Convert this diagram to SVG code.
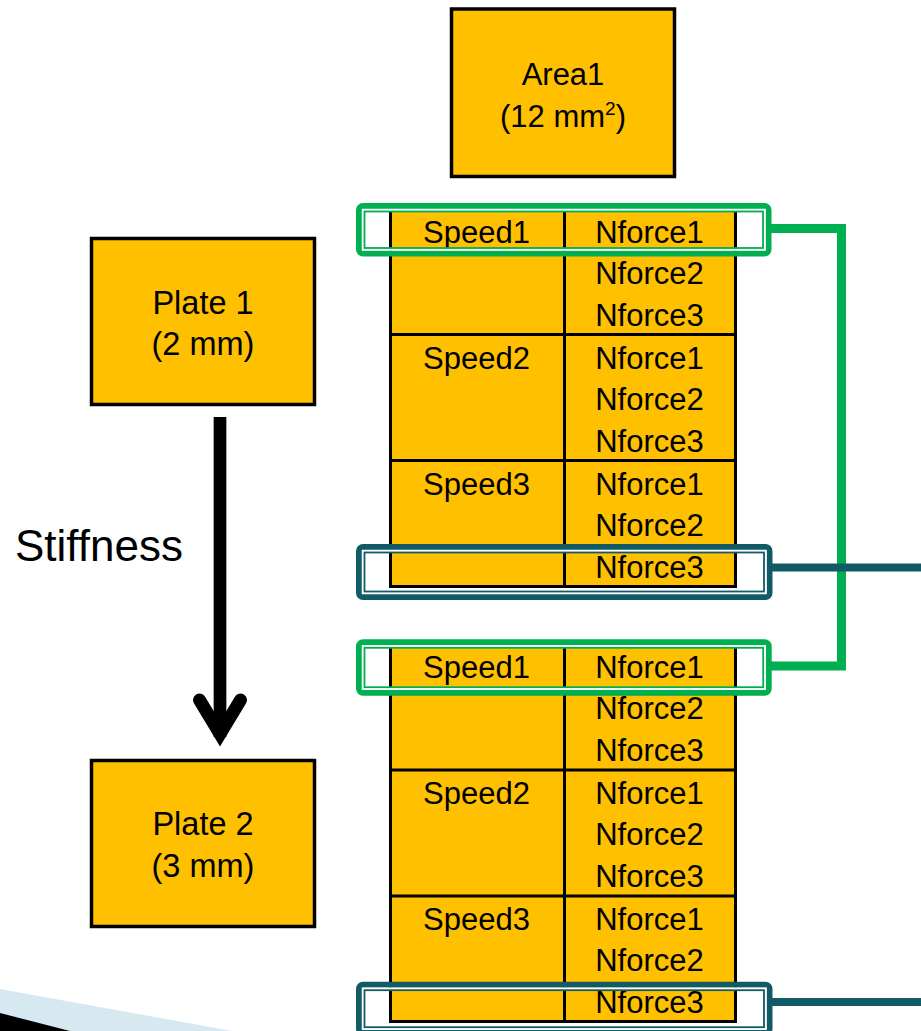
<svg xmlns="http://www.w3.org/2000/svg" width="921" height="1031" viewBox="0 0 921 1031">
<defs>
<style>
.box{fill:#ffc000;stroke:#000;stroke-width:3.5}
.cell{fill:#ffc000;stroke:#000;stroke-width:3}
.ln{stroke:#000;stroke-width:3}
.t{font-family:"Liberation Sans",Arial,sans-serif;font-size:31px;fill:#000;text-anchor:middle}
.tp{font-size:32.5px}
.g{stroke:#00b050}
.b{stroke:#125a65}
.hl-o{fill:none;stroke-width:6}
.hl-w{fill:none;stroke:#fff;stroke-width:2.5}
.hl-i{fill:none;stroke-width:1.8}
.con{fill:none}
</style>
</defs>
<rect width="921" height="1031" fill="#fff"/>
<g id="decoration">
<polygon points="0,989 232,1031 0,1031" fill="#d6e8f0"/>
<polygon points="0,1013 70,1031 0,1031" fill="#000"/>
</g>
<g id="area1">
<rect class="box" x="451.5" y="9" width="223" height="167.5"/>
<text class="t" x="563" y="85">Area1</text>
<text class="t" x="563" y="126.5" font-size="32">(12 mm<tspan font-size="19" dy="-12">2</tspan><tspan dy="12">)</tspan></text>
</g>
<g id="plate1">
<rect class="box" x="91.5" y="238.5" width="223" height="166"/>
<text class="t tp" x="203" y="314">Plate 1</text>
<text class="t tp" x="203" y="355">(2 mm)</text>
</g>
<g id="plate2">
<rect class="box" x="91.5" y="760.5" width="223" height="166"/>
<text class="t tp" x="203" y="835">Plate 2</text>
<text class="t tp" x="203" y="876.5">(3 mm)</text>
</g>
<g id="stiffness">
<line x1="220" y1="417" x2="220" y2="737" stroke="#000" stroke-width="12.7"/>
<polyline points="199.5,700 220,734 240.5,700" fill="none" stroke="#000" stroke-width="13" stroke-linecap="round" stroke-linejoin="miter"/>
<text x="15" y="561" font-family="'Liberation Sans',Arial,sans-serif" font-size="44" fill="#000">Stiffness</text>
</g>
<g id="table1">
<rect class="cell" x="390.5" y="209" width="345" height="377.5"/>
<line class="ln" x1="564.5" y1="209" x2="564.5" y2="586.5"/>
<line class="ln" x1="390.5" y1="334.5" x2="735.5" y2="334.5"/>
<line class="ln" x1="390.5" y1="460.5" x2="735.5" y2="460.5"/>
<text class="t" x="476.5" y="242.5">Speed1</text>
<text class="t" x="649.5" y="242.5">Nforce1</text>
<text class="t" x="649.5" y="284">Nforce2</text>
<text class="t" x="649.5" y="325.5">Nforce3</text>
<text class="t" x="476.5" y="368.5">Speed2</text>
<text class="t" x="649.5" y="368.5">Nforce1</text>
<text class="t" x="649.5" y="410">Nforce2</text>
<text class="t" x="649.5" y="451.5">Nforce3</text>
<text class="t" x="476.5" y="494.5">Speed3</text>
<text class="t" x="649.5" y="494.5">Nforce1</text>
<text class="t" x="649.5" y="536">Nforce2</text>
<text class="t" x="649.5" y="577.5">Nforce3</text>
</g>
<g id="table2">
<rect class="cell" x="390.5" y="644" width="345" height="377.5"/>
<line class="ln" x1="564.5" y1="644" x2="564.5" y2="1021.5"/>
<line class="ln" x1="390.5" y1="770" x2="735.5" y2="770"/>
<line class="ln" x1="390.5" y1="896" x2="735.5" y2="896"/>
<text class="t" x="476.5" y="677.5">Speed1</text>
<text class="t" x="649.5" y="677.5">Nforce1</text>
<text class="t" x="649.5" y="719">Nforce2</text>
<text class="t" x="649.5" y="760.5">Nforce3</text>
<text class="t" x="476.5" y="803.5">Speed2</text>
<text class="t" x="649.5" y="803.5">Nforce1</text>
<text class="t" x="649.5" y="845">Nforce2</text>
<text class="t" x="649.5" y="886.5">Nforce3</text>
<text class="t" x="476.5" y="929.5">Speed3</text>
<text class="t" x="649.5" y="929.5">Nforce1</text>
<text class="t" x="649.5" y="971">Nforce2</text>
<text class="t" x="649.5" y="1012.5">Nforce3</text>
</g>
<g id="connectors">
<path class="con g" d="M771,228.5 H841.5 V666 H771" stroke-width="9" stroke-linejoin="miter"/>
<line class="con b" x1="772" y1="567.5" x2="921" y2="567.5" stroke-width="8"/>
<line class="con b" x1="772" y1="1002" x2="921" y2="1002" stroke-width="8"/>
</g>
<g id="highlight-top-green">
<rect class="hl-o g" x="359" y="206" width="409.5" height="47.5" rx="4"/>
<rect class="hl-w" x="363" y="210" width="401.5" height="39.5"/>
<rect class="hl-i g" x="364.5" y="211.5" width="398.5" height="36.5"/>
</g>
<g id="highlight-top-teal">
<rect class="hl-o b" x="359" y="547" width="410.5" height="50" rx="4"/>
<rect class="hl-w" x="363" y="551" width="402.5" height="42"/>
<rect class="hl-i b" x="364.5" y="552.5" width="399.5" height="39"/>
</g>
<g id="highlight-bottom-green">
<rect class="hl-o g" x="359" y="642.3" width="409.7" height="50.4" rx="4"/>
<rect class="hl-w" x="363" y="646.3" width="401.7" height="42.4"/>
<rect class="hl-i g" x="364.5" y="647.8" width="398.7" height="39.4"/>
</g>
<g id="highlight-bottom-teal">
<rect class="hl-o b" x="359" y="984.7" width="410.5" height="48" rx="4"/>
<rect class="hl-w" x="363" y="988.7" width="402.5" height="40"/>
<rect class="hl-i b" x="364.5" y="990.2" width="399.5" height="37"/>
</g>
</svg>
